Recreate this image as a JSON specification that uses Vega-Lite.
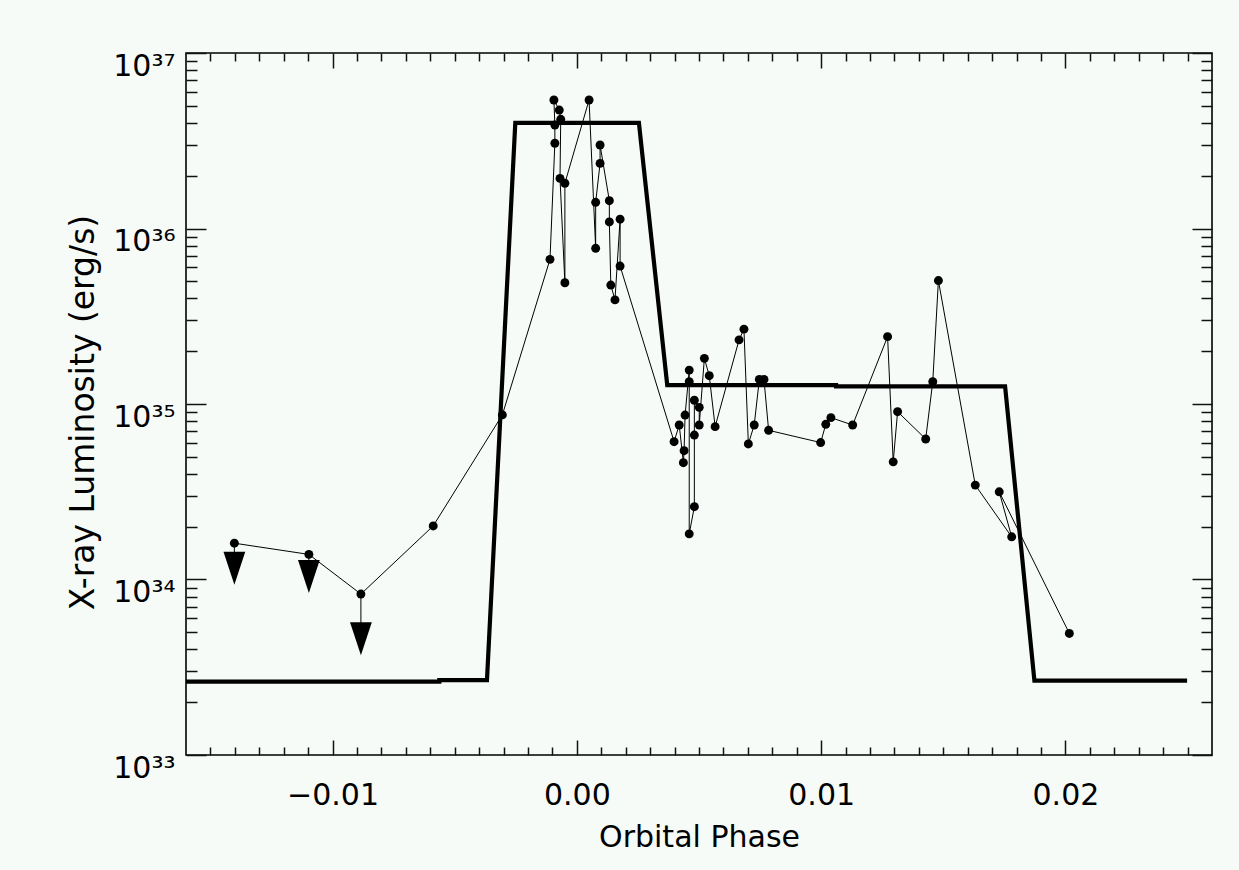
{
  "$schema": "https://vega.github.io/schema/vega-lite/v6.json",
  "width": 1026,
  "height": 702,
  "autosize": {"type": "none"},
  "padding": {"left": 186, "top": 53, "right": 27, "bottom": 115},
  "background": "#F6FBF8",
  "config": {
    "view": {"stroke": "#000000", "strokeWidth": 1.6},
    "axis": {
      "grid": false,
      "domain": false,
      "labelFont": "DejaVu Sans",
      "titleFont": "DejaVu Sans",
      "labelColor": "#000000",
      "titleColor": "#000000",
      "tickColor": "#111111",
      "tickWidth": 1.5,
      "labelFontSize": 30,
      "titleFontSize": 30,
      "titleFontWeight": "normal",
      "labelOverlap": false,
      "labelFlush": false
    }
  },
  "datasets": {
    "model": [
      {"i": 0, "phase": -0.016, "L": 2.62e33},
      {"i": 1, "phase": -0.00563, "L": 2.62e33},
      {"i": 2, "phase": -0.00563, "L": 2.67e33},
      {"i": 3, "phase": -0.00368, "L": 2.67e33},
      {"i": 4, "phase": -0.00252, "L": 4.0e36},
      {"i": 5, "phase": 0.00254, "L": 4.0e36},
      {"i": 6, "phase": 0.0037, "L": 1.28e35},
      {"i": 7, "phase": 0.01061, "L": 1.28e35},
      {"i": 8, "phase": 0.01061, "L": 1.26e35},
      {"i": 9, "phase": 0.01753, "L": 1.26e35},
      {"i": 10, "phase": 0.01873, "L": 2.65e33},
      {"i": 11, "phase": 0.02498, "L": 2.65e33}
    ],
    "obs": [
      {"n": 1, "phase": -0.01402, "L": 1.61e34},
      {"n": 2, "phase": -0.01097, "L": 1.39e34},
      {"n": 3, "phase": -0.00884, "L": 8.26e33},
      {"n": 4, "phase": -0.00588, "L": 2.02e34},
      {"n": 5, "phase": -0.00305, "L": 8.67e34},
      {"n": 6, "phase": -0.0011, "L": 6.67e35},
      {"n": 7, "phase": -0.0009, "L": 3.06e36},
      {"n": 8, "phase": -0.0009, "L": 3.89e36},
      {"n": 9, "phase": -0.00094, "L": 5.4e36},
      {"n": 10, "phase": -0.00072, "L": 4.73e36},
      {"n": 11, "phase": -0.00066, "L": 4.19e36},
      {"n": 12, "phase": -0.00069, "L": 1.93e36},
      {"n": 13, "phase": -0.00049, "L": 4.91e35},
      {"n": 14, "phase": -0.00049, "L": 1.81e36},
      {"n": 15, "phase": 0.0005, "L": 5.4e36},
      {"n": 16, "phase": 0.00077, "L": 7.71e35},
      {"n": 17, "phase": 0.00077, "L": 1.41e36},
      {"n": 18, "phase": 0.00095, "L": 2.35e36},
      {"n": 19, "phase": 0.00095, "L": 2.99e36},
      {"n": 20, "phase": 0.00133, "L": 1.44e36},
      {"n": 21, "phase": 0.00133, "L": 1.09e36},
      {"n": 22, "phase": 0.00139, "L": 4.76e35},
      {"n": 23, "phase": 0.00156, "L": 3.92e35},
      {"n": 24, "phase": 0.00177, "L": 1.13e36},
      {"n": 25, "phase": 0.00177, "L": 6.11e35},
      {"n": 26, "phase": 0.00398, "L": 6.1e34},
      {"n": 27, "phase": 0.00419, "L": 7.59e34},
      {"n": 28, "phase": 0.00436, "L": 4.63e34},
      {"n": 29, "phase": 0.00439, "L": 5.42e34},
      {"n": 30, "phase": 0.00443, "L": 8.65e34},
      {"n": 31, "phase": 0.0046, "L": 1.56e35},
      {"n": 32, "phase": 0.0046, "L": 1.34e35},
      {"n": 33, "phase": 0.0046, "L": 1.82e34},
      {"n": 34, "phase": 0.00481, "L": 2.6e34},
      {"n": 35, "phase": 0.00481, "L": 6.65e34},
      {"n": 36, "phase": 0.00481, "L": 1.05e35},
      {"n": 37, "phase": 0.00501, "L": 9.57e34},
      {"n": 38, "phase": 0.00501, "L": 7.59e34},
      {"n": 39, "phase": 0.00522, "L": 1.82e35},
      {"n": 40, "phase": 0.00542, "L": 1.45e35},
      {"n": 41, "phase": 0.00566, "L": 7.43e34},
      {"n": 42, "phase": 0.00664, "L": 2.32e35},
      {"n": 43, "phase": 0.00684, "L": 2.67e35},
      {"n": 44, "phase": 0.00702, "L": 5.92e34},
      {"n": 45, "phase": 0.00726, "L": 7.59e34},
      {"n": 46, "phase": 0.00747, "L": 1.38e35},
      {"n": 47, "phase": 0.00766, "L": 1.38e35},
      {"n": 48, "phase": 0.00785, "L": 7.08e34},
      {"n": 49, "phase": 0.00998, "L": 6.03e34},
      {"n": 50, "phase": 0.01019, "L": 7.66e34},
      {"n": 51, "phase": 0.0104, "L": 8.36e34},
      {"n": 52, "phase": 0.01129, "L": 7.59e34},
      {"n": 53, "phase": 0.01272, "L": 2.42e35},
      {"n": 54, "phase": 0.01295, "L": 4.68e34},
      {"n": 55, "phase": 0.01313, "L": 9.04e34},
      {"n": 56, "phase": 0.01428, "L": 6.32e34},
      {"n": 57, "phase": 0.01457, "L": 1.34e35},
      {"n": 58, "phase": 0.0148, "L": 5.05e35},
      {"n": 59, "phase": 0.01631, "L": 3.45e34},
      {"n": 60, "phase": 0.0178, "L": 1.75e34},
      {"n": 61, "phase": 0.01729, "L": 3.16e34},
      {"n": 62, "phase": 0.02016, "L": 4.93e33}
    ],
    "limits": [
      {"phase": -0.01402, "L": 1.61e34, "tip": 1.16e34},
      {"phase": -0.01097, "L": 1.39e34, "tip": 1.04e34},
      {"phase": -0.00884, "L": 8.26e33, "tip": 4.6e33}
    ]
  },
  "resolve": {"axis": {"x": "independent", "y": "independent"}},
  "layer": [
    {
      "data": {"name": "model"},
      "mark": {"type": "line", "color": "#000000", "strokeWidth": 4.2},
      "encoding": {
        "x": {
          "field": "phase", "type": "quantitative",
          "scale": {"domain": [-0.016, 0.026], "nice": false, "zero": false},
          "axis": {
            "orient": "bottom",
            "values": [-0.015, -0.014, -0.013, -0.012, -0.011, -0.01, -0.009, -0.008, -0.007, -0.006, -0.005, -0.004, -0.003, -0.002, -0.001, 0, 0.001, 0.002, 0.003, 0.004, 0.005, 0.006, 0.007, 0.008, 0.009, 0.01, 0.011, 0.012, 0.013, 0.014, 0.015, 0.016, 0.017, 0.018, 0.019, 0.02, 0.021, 0.022, 0.023, 0.024, 0.025],
            "tickSize": {"condition": {"test": "indexof([-0.01, 0, 0.01, 0.02], datum.value) >= 0", "value": -15}, "value": -8},
            "labelExpr": "indexof([-0.01, 0, 0.01, 0.02], datum.value) >= 0 ? format(datum.value, '.2f') : ''",
            "labelPadding": 40,
            "labelBaseline": "top",
            "title": "Orbital Phase",
            "titleY": 91,
            "titleBaseline": "alphabetic"
          }
        },
        "y": {
          "field": "L", "type": "quantitative",
          "scale": {"type": "log", "domain": [1e33, 1e37], "nice": false},
          "axis": {
            "orient": "left",
            "values": [1e33, 2e33, 3e33, 4e33, 5e33, 6e33, 7e33, 8e33, 9e33, 1e34, 2e34, 3e34, 4e34, 5e34, 6e34, 7e34, 8e34, 9e34, 1e35, 2e35, 3e35, 4e35, 5e35, 6e35, 7e35, 8e35, 9e35, 1e36, 2e36, 3e36, 4e36, 5e36, 6e36, 7e36, 8e36, 9e36, 1e37],
            "tickSize": {"condition": {"test": "indexof([1e33, 1e34, 1e35, 1e36, 1e37], datum.value) >= 0", "value": -20}, "value": -11},
            "labelExpr": "datum.value == 1e37 ? '10³⁷' : datum.value == 1e36 ? '10³⁶' : datum.value == 1e35 ? '10³⁵' : datum.value == 1e34 ? '10³⁴' : datum.value == 1e33 ? '10³³' : ''",
            "labelPadding": 31,
            "labelOffset": 13,
            "labelBaseline": "middle",
            "title": "X-ray Luminosity (erg/s)",
            "titleFontSize": 33,
            "titleX": -93,
            "titleY": 359,
            "titleAngle": -90,
            "titleAlign": "center",
            "titleBaseline": "alphabetic"
          }
        },
        "order": {"field": "i", "type": "quantitative"}
      }
    },
    {
      "data": {"name": "obs"},
      "mark": {"type": "line", "color": "#000000", "strokeWidth": 1},
      "encoding": {
        "x": {
          "field": "phase", "type": "quantitative",
          "axis": {
            "orient": "top",
            "values": [-0.015, -0.014, -0.013, -0.012, -0.011, -0.01, -0.009, -0.008, -0.007, -0.006, -0.005, -0.004, -0.003, -0.002, -0.001, 0, 0.001, 0.002, 0.003, 0.004, 0.005, 0.006, 0.007, 0.008, 0.009, 0.01, 0.011, 0.012, 0.013, 0.014, 0.015, 0.016, 0.017, 0.018, 0.019, 0.02, 0.021, 0.022, 0.023, 0.024, 0.025],
            "tickSize": {"condition": {"test": "indexof([-0.01, 0, 0.01, 0.02], datum.value) >= 0", "value": -15}, "value": -8},
            "labels": false,
            "title": null
          }
        },
        "y": {
          "field": "L", "type": "quantitative",
          "axis": {
            "orient": "right",
            "values": [1e33, 2e33, 3e33, 4e33, 5e33, 6e33, 7e33, 8e33, 9e33, 1e34, 2e34, 3e34, 4e34, 5e34, 6e34, 7e34, 8e34, 9e34, 1e35, 2e35, 3e35, 4e35, 5e35, 6e35, 7e35, 8e35, 9e35, 1e36, 2e36, 3e36, 4e36, 5e36, 6e36, 7e36, 8e36, 9e36, 1e37],
            "tickSize": {"condition": {"test": "indexof([1e33, 1e34, 1e35, 1e36, 1e37], datum.value) >= 0", "value": -20}, "value": -11},
            "labels": false,
            "title": null
          }
        },
        "order": {"field": "n", "type": "quantitative"}
      }
    },
    {
      "data": {"name": "obs"},
      "mark": {"type": "point", "shape": "circle", "filled": true, "color": "#000000", "opacity": 1, "size": 80},
      "encoding": {
        "x": {"field": "phase", "type": "quantitative", "axis": null},
        "y": {"field": "L", "type": "quantitative", "axis": null}
      }
    },
    {
      "data": {"name": "limits"},
      "mark": {"type": "rule", "color": "#000000", "strokeWidth": 1},
      "encoding": {
        "x": {"field": "phase", "type": "quantitative", "axis": null},
        "y": {"field": "L", "type": "quantitative", "axis": null},
        "y2": {"field": "tip"}
      }
    },
    {
      "data": {"name": "limits"},
      "mark": {"type": "point", "shape": "M-0.66,-1L0.66,-1L0,1Z", "filled": true, "color": "#000000", "opacity": 1, "size": 1089},
      "encoding": {
        "x": {"field": "phase", "type": "quantitative", "axis": null},
        "y": {"field": "tip", "type": "quantitative", "axis": null}
      }
    }
  ]
}
